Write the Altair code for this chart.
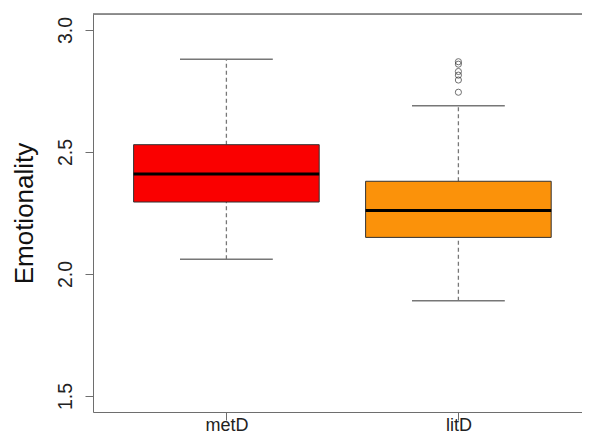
import altair as alt
import pandas as pd

# ---- data ----
groups = ["metD", "litD"]
positions = [1, 2]
lower_whisker = [2.06, 1.89]
q1 = [2.295, 2.15]
median = [2.41, 2.26]
q3 = [2.53, 2.38]
upper_whisker = [2.88, 2.69]
box_colors = ["#FA0000", "#FB920A"]

outlier_group = ["litD", "litD", "litD", "litD", "litD", "litD"]
outlier_values = [2.87, 2.86, 2.83, 2.815, 2.795, 2.745]

y_ticks = [1.5, 2.0, 2.5, 3.0]
y_domain = [1.4344, 3.0656]

W, H = 489, 398
PX_PER_UNIT = 232
x_domain = [0.425, 0.425 + W / PX_PER_UNIT]

stats = pd.DataFrame({
    "group": groups, "pos": positions, "lower": lower_whisker, "q1": q1,
    "median": median, "q3": q3, "upper": upper_whisker,
})
pos_map = dict(zip(groups, positions))
outl = pd.DataFrame({"group": outlier_group, "value": outlier_values})
outl["pos"] = outl["group"].map(pos_map)

AXIS_GRAY = "#6e6e6e"
label_expr = " : ".join(
    [f"datum.value == {p} ? '{g}'" for g, p in zip(groups, positions)] + ["''"]
)

xscale = alt.Scale(domain=x_domain, nice=False, zero=False)
yscale = alt.Scale(domain=y_domain, nice=False, zero=False)
xaxis = alt.Axis(values=positions, labelExpr=label_expr, grid=False, title=None,
                 domainColor=AXIS_GRAY, tickColor=AXIS_GRAY, tickSize=8,
                 labelFontSize=18, labelColor="#222", labelFont="Liberation Sans",
                 labelBaseline="bottom", labelPadding=14, labelAngle=0)
yaxis = alt.Axis(values=y_ticks, format=".1f", grid=False, title="Emotionality",
                 domainColor=AXIS_GRAY, tickColor=AXIS_GRAY, tickSize=8,
                 labelFontSize=19.5, labelColor="#222", labelFont="Liberation Sans",
                 labelAngle=-90, labelAlign="center", labelBaseline="alphabetic",
                 labelPadding=14,
                 titleFontSize=26, titleFont="Liberation Sans", titleFontWeight="normal",
                 titleColor="#111", titleAngle=-90, titleAlign="center",
                 titleBaseline="alphabetic", titleX=-61, titleY=H / 2)


def X(f):
    return alt.X(f, type="quantitative", scale=xscale, axis=xaxis)


def Y(f):
    return alt.Y(f, type="quantitative", scale=yscale, axis=yaxis)


base = alt.Chart(stats).transform_calculate(
    box_lo="datum.pos - 0.4", box_hi="datum.pos + 0.4",
    cap_lo="datum.pos - 0.2", cap_hi="datum.pos + 0.2",
)

whisk_up = base.mark_rule(color="#777", strokeDash=[4, 3], strokeWidth=1.3).encode(
    x=X("pos"), y=Y("q3"), y2="upper:Q")
whisk_lo = base.mark_rule(color="#777", strokeDash=[4, 3], strokeWidth=1.3).encode(
    x=X("pos"), y=Y("lower"), y2="q1:Q")
cap_up = base.mark_rule(color="#777", strokeWidth=1.5).encode(
    x=X("cap_lo"), x2="cap_hi:Q", y=Y("upper"))
cap_lo = base.mark_rule(color="#777", strokeWidth=1.5).encode(
    x=X("cap_lo"), x2="cap_hi:Q", y=Y("lower"))
box = base.mark_rect(stroke="#333", strokeWidth=1).encode(
    x=X("box_lo"), x2="box_hi:Q", y=Y("q1"), y2="q3:Q",
    color=alt.Color("group:N", scale=alt.Scale(domain=groups, range=box_colors), legend=None))
med = base.mark_rule(color="#000", strokeWidth=3).encode(
    x=X("box_lo"), x2="box_hi:Q", y=Y("median"))
pts = alt.Chart(outl).mark_point(shape="circle", filled=False, size=38,
                                 color="#333", strokeWidth=1).encode(
    x=X("pos"), y=Y("value"))
top = alt.Chart(stats).mark_rule(color=AXIS_GRAY, strokeWidth=1).encode(
    x=alt.value(0), x2=alt.value(W), y=alt.value(0))

chart = alt.layer(whisk_up, whisk_lo, cap_up, cap_lo, box, med, pts, top).properties(
    width=W, height=H,
    autosize=alt.AutoSizeParams(type="none"),
    padding={"left": 85, "top": 6, "right": 0, "bottom": 22},
).configure_view(stroke=None).configure(background="white")

chart.save("out.html", embed_options={"renderer": "svg", "actions": False})
